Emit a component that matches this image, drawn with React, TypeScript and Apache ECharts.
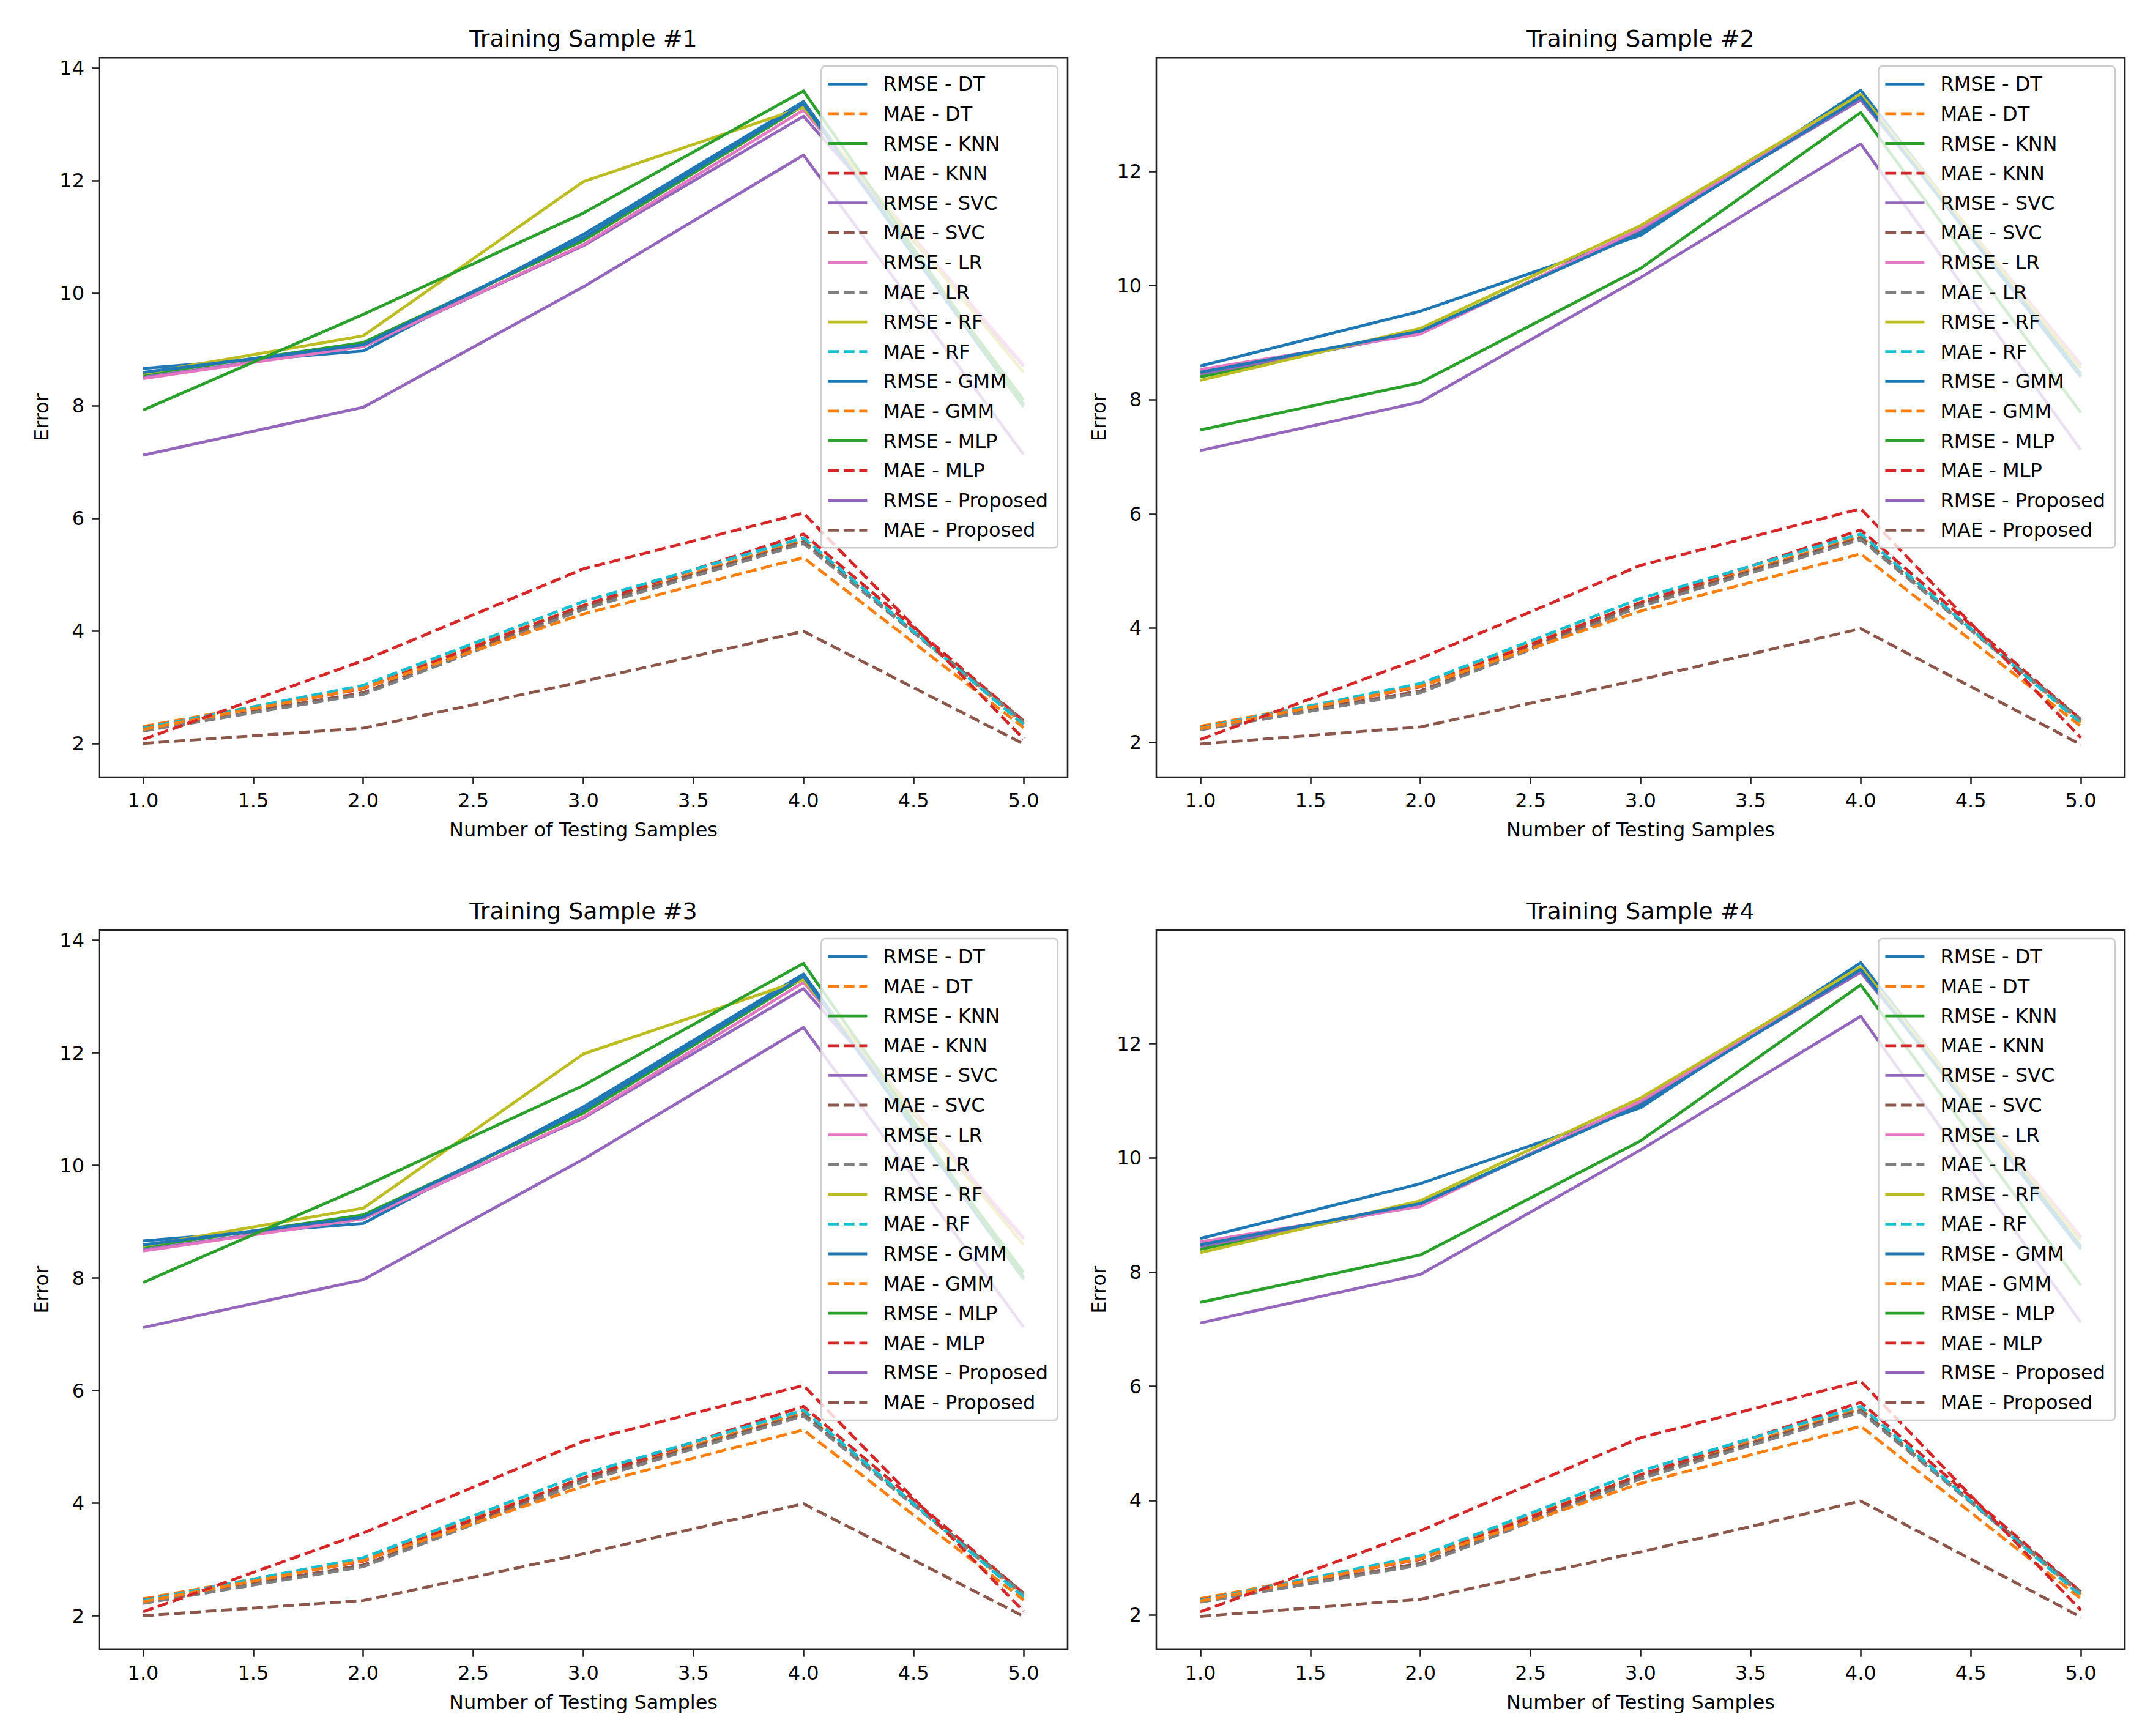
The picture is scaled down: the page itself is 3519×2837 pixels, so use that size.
import React, { useEffect, useRef } from 'react';
import * as echarts from 'echarts';

const TEST_SAMPLES = [1, 2, 3, 4, 5];
const METHODS = ['DT', 'KNN', 'SVC', 'LR', 'RF', 'GMM', 'MLP', 'Proposed'];
const X_TICKS = [1, 1.5, 2, 2.5, 3, 3.5, 4, 4.5, 5];
const Y_TICKS_A = [2, 4, 6, 8, 10, 12, 14];
const Y_TICKS_B = [2, 4, 6, 8, 10, 12];
const TITLES = ['Training Sample #1', 'Training Sample #2', 'Training Sample #3', 'Training Sample #4'];

// Training samples #1 and #3
const RMSE_A: Record<string, number[]> = {
  DT: [8.66, 8.97, 11.04, 13.4, 8.02],
  KNN: [8.55, 9.12, 10.93, 13.33, 8.1],
  SVC: [8.5, 9.05, 10.84, 13.14, 8.7],
  LR: [8.48, 9.05, 10.86, 13.25, 8.72],
  RF: [8.57, 9.24, 11.98, 13.3, 8.59],
  GMM: [8.59, 9.08, 10.98, 13.36, 7.98],
  MLP: [7.92, 9.62, 11.42, 13.59, 7.99],
  Proposed: [7.12, 7.97, 10.11, 12.45, 7.13],
};
const MAE_A: Record<string, number[]> = {
  DT: [2.3, 3.0, 4.45, 5.6, 2.35],
  KNN: [2.28, 2.97, 4.45, 5.72, 2.4],
  SVC: [2.25, 2.9, 4.42, 5.58, 2.4],
  LR: [2.22, 2.87, 4.38, 5.55, 2.38],
  RF: [2.27, 3.03, 4.52, 5.65, 2.33],
  GMM: [2.25, 2.98, 4.3, 5.3, 2.28],
  MLP: [2.07, 3.47, 5.1, 6.09, 2.08],
  Proposed: [2.0, 2.27, 3.1, 3.99, 1.99],
};
// Training samples #2 and #4
const RMSE_B: Record<string, number[]> = {
  DT: [8.59, 9.55, 10.88, 13.42, 8.45],
  KNN: [8.4, 9.2, 10.95, 13.28, 8.42],
  SVC: [8.45, 9.17, 10.98, 13.25, 8.6],
  LR: [8.53, 9.15, 11.0, 13.3, 8.62],
  RF: [8.34, 9.25, 11.05, 13.35, 8.55],
  GMM: [8.48, 9.2, 10.92, 13.3, 8.4],
  MLP: [7.47, 8.3, 10.3, 13.03, 7.77],
  Proposed: [7.11, 7.96, 10.14, 12.48, 7.12],
};
const MAE_B: Record<string, number[]> = {
  DT: [2.28, 3.0, 4.45, 5.6, 2.35],
  KNN: [2.26, 2.97, 4.45, 5.72, 2.4],
  SVC: [2.24, 2.9, 4.42, 5.58, 2.4],
  LR: [2.22, 2.87, 4.38, 5.55, 2.38],
  RF: [2.25, 3.03, 4.52, 5.65, 2.33],
  GMM: [2.24, 2.98, 4.3, 5.3, 2.28],
  MLP: [2.05, 3.47, 5.1, 6.09, 2.08],
  Proposed: [1.97, 2.27, 3.1, 3.99, 1.96],
};

const PANEL_RMSE = [RMSE_A, RMSE_B, RMSE_A, RMSE_B];
const PANEL_MAE = [MAE_A, MAE_B, MAE_A, MAE_B];
const PANEL_YRANGE = [[1.4, 14.18], [1.39, 13.99], [1.4, 14.18], [1.39, 13.99]];
const PANEL_YTICKS = [Y_TICKS_A, Y_TICKS_B, Y_TICKS_A, Y_TICKS_B];

const RMSE_COLORS = ['#1f77b4', '#2ca02c', '#9467bd', '#e377c2', '#bcbd22', '#1f77b4', '#2ca02c', '#9467bd'];
const MAE_COLORS = ['#ff7f0e', '#d62728', '#8c564b', '#7f7f7f', '#17becf', '#ff7f0e', '#d62728', '#8c564b'];

const W = 3519;
const H = 2837;
const GRID_LEFT = [162, 1890, 162, 1890];
const GRID_TOP = [94.3, 94.3, 1520, 1520];
const GRID_W = 1583;
const GRID_H = 1175.7;
const FONT = 'DejaVu Sans';
const LW = 4.8;
const DASH = [17.8, 7.7];
const DASH_ICON = 'path://M0,0H17.8V4.8H0Z M25.5,0H43.3V4.8H25.5Z M51,0H64V4.8H51Z';
const SOLID_ICON = 'path://M0,0H64V4.8H0Z';

function buildOption() {
  const grids: any[] = [];
  const xAxes: any[] = [];
  const yAxes: any[] = [];
  const legends: any[] = [];
  const series: any[] = [];
  const graphics: any[] = [];

  const legendData: any[] = [];
  METHODS.forEach((m) => {
    legendData.push({ name: `RMSE - ${m}`, icon: SOLID_ICON });
    legendData.push({ name: `MAE - ${m}`, icon: DASH_ICON });
  });

  for (let i = 0; i < 4; i++) {
    grids.push({
      left: GRID_LEFT[i],
      top: GRID_TOP[i],
      width: GRID_W,
      height: GRID_H,
      show: true,
      borderColor: '#222',
      borderWidth: 2.6,
      backgroundColor: 'transparent',
      containLabel: false,
    });
    xAxes.push({
      type: 'value',
      gridIndex: i,
      min: 0.8,
      max: 5.2,
      axisLine: { show: false },
      splitLine: { show: false },
      axisTick: { show: true, customValues: X_TICKS, length: 12, lineStyle: { color: '#222', width: 2.6 } },
      axisLabel: {
        customValues: X_TICKS,
        formatter: (v: number) => v.toFixed(1),
        margin: 22,
        fontSize: 32,
        color: '#000',
        fontFamily: FONT,
      },
      name: 'Number of Testing Samples',
      nameLocation: 'middle',
      nameGap: 70,
      nameTextStyle: { fontSize: 32, color: '#000', fontFamily: FONT },
    });
    yAxes.push({
      type: 'value',
      gridIndex: i,
      min: PANEL_YRANGE[i][0],
      max: PANEL_YRANGE[i][1],
      axisLine: { show: false },
      splitLine: { show: false },
      axisTick: { show: true, customValues: PANEL_YTICKS[i], length: 12, lineStyle: { color: '#222', width: 2.6 } },
      axisLabel: {
        customValues: PANEL_YTICKS[i],
        formatter: (v: number) => String(Math.round(v)),
        margin: 24,
        fontSize: 32,
        color: '#000',
        fontFamily: FONT,
      },
      name: 'Error',
      nameLocation: 'middle',
      nameRotate: 90,
      nameGap: 78,
      nameTextStyle: { fontSize: 32, color: '#000', fontFamily: FONT },
    });
    legends.push({
      orient: 'vertical',
      top: GRID_TOP[i] + 14,
      right: W - (GRID_LEFT[i] + GRID_W - 16),
      data: legendData,
      itemWidth: 64,
      itemHeight: 4.8,
      itemGap: 12.6,
      selectedMode: false,
      textStyle: { fontFamily: FONT, fontSize: 32, color: '#000', lineHeight: 36, padding: [0, 0, 0, 21] },
      backgroundColor: 'rgba(255,255,255,0.8)',
      borderColor: '#cccccc',
      borderWidth: 2.5,
      borderRadius: 6,
      padding: [11, 16, 11, 11],
      z: 10,
    });
    graphics.push({
      type: 'text',
      x: GRID_LEFT[i] + GRID_W / 2,
      y: GRID_TOP[i] - 31,
      style: {
        text: TITLES[i],
        fontSize: 38,
        fontFamily: FONT,
        fill: '#000',
        align: 'center',
        verticalAlign: 'middle',
        textAlign: 'center',
        textVerticalAlign: 'middle',
      },
    });

    METHODS.forEach((m, k) => {
      series.push({
        type: 'line',
        name: `RMSE - ${m}`,
        xAxisIndex: i,
        yAxisIndex: i,
        data: TEST_SAMPLES.map((x, j) => [x, PANEL_RMSE[i][m][j]]),
        symbol: 'none',
        silent: true,
        color: RMSE_COLORS[k],
        lineStyle: { color: RMSE_COLORS[k], width: LW, type: 'solid', cap: 'butt', join: 'round' },
        z: 2,
      });
      series.push({
        type: 'line',
        name: `MAE - ${m}`,
        xAxisIndex: i,
        yAxisIndex: i,
        data: TEST_SAMPLES.map((x, j) => [x, PANEL_MAE[i][m][j]]),
        symbol: 'none',
        silent: true,
        color: MAE_COLORS[k],
        lineStyle: { color: MAE_COLORS[k], width: LW, type: DASH, cap: 'butt', join: 'round' },
        z: 2,
      });
    });
  }

  return {
    animation: false,
    backgroundColor: '#ffffff',
    grid: grids,
    xAxis: xAxes,
    yAxis: yAxes,
    legend: legends,
    series,
    graphic: graphics,
  };
}

export default function App() {
  const ref = useRef<HTMLDivElement>(null);
  useEffect(() => {
    if (!ref.current) return;
    const chart = echarts.init(ref.current, undefined, { renderer: 'svg' });
    chart.setOption(buildOption() as any);
    return () => chart.dispose();
  }, []);
  return (
    <div
      ref={ref}
      style={{ position: 'absolute', left: 0, top: 0, width: W, height: H, background: '#fff' }}
    />
  );
}
